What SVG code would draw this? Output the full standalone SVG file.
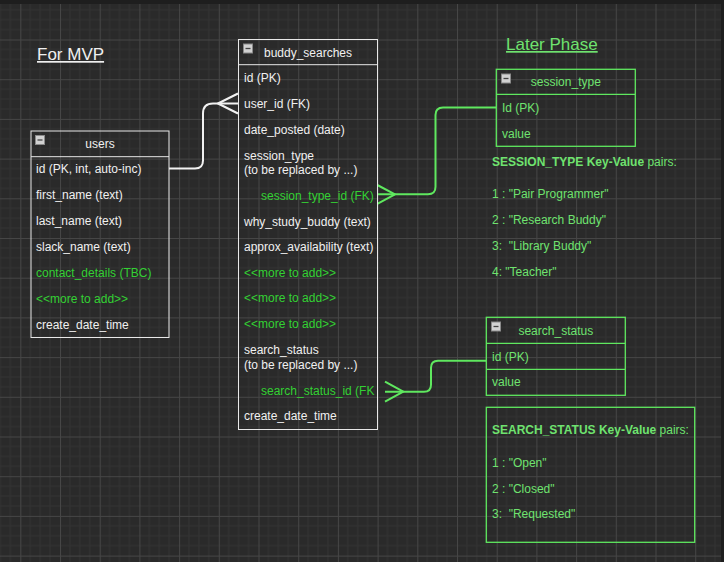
<svg xmlns="http://www.w3.org/2000/svg" width="724" height="562" viewBox="0 0 724 562">
<defs>
<pattern id="grid" x="20.3" y="39.5" width="39.7" height="39.7" patternUnits="userSpaceOnUse">
<path d="M9.925 0V39.7M19.85 0V39.7M29.775 0V39.7M0 9.925H39.7M0 19.85H39.7M0 29.775H39.7" stroke="#343434" stroke-width="1" fill="none"/>
<path d="M0.5 0V39.7M0 0.5H39.7" stroke="#464646" stroke-width="1" fill="none"/>
</pattern>
<g id="minus">
<rect x="0.5" y="0.5" width="9" height="9" fill="#d2d2d2" stroke="#8a8a8a"/>
<line x1="2.5" y1="5" x2="7.5" y2="5" stroke="#444" stroke-width="1.3"/>
</g>
</defs>
<style>
text{font-family:"Liberation Sans",Arial,sans-serif;font-size:12px}
.w{fill:#f0f0f0}
.g{fill:#33d133}
.lg{fill:#6fe36f}
.box{fill:none;stroke:#e8e8e8;stroke-width:1}
.gbox{fill:none;stroke:#5fe85f;stroke-width:1.3}
.hd{text-anchor:middle}
.b{font-weight:bold}
.title{font-size:17px;text-decoration:underline}
.cw{fill:none;stroke:#f2f2f2;stroke-width:2;stroke-linejoin:round}
.cg{fill:none;stroke:#5fe85f;stroke-width:2;stroke-linejoin:round}
</style>
<rect width="724" height="562" fill="#2a2a2a"/>
<rect width="724" height="562" fill="url(#grid)"/>
<rect width="724" height="4" fill="#1e1e1e"/>
<rect x="721" y="0" width="3" height="562" fill="#1e1e1e"/>

<text class="w title" x="37" y="60">For MVP</text>
<text class="lg title" x="506" y="50">Later Phase</text>

<g id="connectors">
<path class="cw" d="M169 168.5H195Q203 168.5 203 160.5V113.5Q203 103.5 213 103.5H238"/>
<path class="cw" d="M238 93.5L218 103.5L238 113.5"/>
<path class="cg" d="M377 194.3H428Q435.5 194.3 435.5 186.8V115Q435.5 107.5 443 107.5H496"/>
<path class="cg" d="M377.3 185L395 194.3L377.3 203.8"/>
<path class="cg" d="M385 391.7H424Q431 391.7 431 384.7V367.7Q431 360.7 438 360.7H486"/>
<path class="cg" d="M385 381.7L403.3 391.7L385 401.7"/>
</g>

<g id="users">
<rect class="box" x="31" y="131" width="138" height="206.5"/>
<line class="box" x1="31" y1="156.7" x2="169" y2="156.7"/>
<use href="#minus" x="35" y="135"/>
<text class="w hd" x="100" y="148">users</text>
<text class="w" x="36" y="173">id (PK, int, auto-inc)</text>
<text class="w" x="36" y="199">first_name (text)</text>
<text class="w" x="36" y="225">last_name (text)</text>
<text class="w" x="36" y="251">slack_name (text)</text>
<text class="g" x="36" y="277">contact_details (TBC)</text>
<text class="g" x="36" y="302.5">&lt;&lt;more to add&gt;&gt;</text>
<text class="w" x="36" y="328.5">create_date_time</text>
</g>

<g id="buddy_searches">
<rect class="box" x="238.5" y="39.5" width="139" height="390"/>
<line class="box" x1="238.5" y1="64.7" x2="377.5" y2="64.7"/>
<use href="#minus" x="243" y="43.5"/>
<text class="w hd" x="308" y="57">buddy_searches</text>
<text class="w" x="244" y="82.3">id (PK)</text>
<text class="w" x="244" y="108">user_id (FK)</text>
<text class="w" x="244" y="133.5">date_posted (date)</text>
<text class="w" x="244" y="160">session_type</text>
<text class="w" x="244" y="173.5">(to be replaced by ...)</text>
<text class="g" x="261" y="199.5">session_type_id (FK)</text>
<text class="w" x="244" y="225.7">why_study_buddy (text)</text>
<text class="w" x="244" y="251">approx_availability (text)</text>
<text class="g" x="244" y="276.5">&lt;&lt;more to add&gt;&gt;</text>
<text class="g" x="244" y="302">&lt;&lt;more to add&gt;&gt;</text>
<text class="g" x="244" y="328">&lt;&lt;more to add&gt;&gt;</text>
<text class="w" x="244" y="354">search_status</text>
<text class="w" x="244" y="368.5">(to be replaced by ...)</text>
<text class="g" x="261" y="394.5">search_status_id (FK</text>
<text class="w" x="244" y="420.3">create_date_time</text>
</g>

<g id="session_type">
<rect class="gbox" x="496.3" y="69.3" width="139" height="77"/>
<line class="gbox" x1="496.3" y1="94.3" x2="635.3" y2="94.3"/>
<use href="#minus" x="501" y="73.5"/>
<text class="lg hd" x="565.8" y="86">session_type</text>
<text class="lg" x="502" y="112.3">Id (PK)</text>
<text class="lg" x="502" y="137.5">value</text>
</g>

<g id="session_type_values">
<text class="lg" x="492" y="165.7"><tspan class="b">SESSION_TYPE Key-Value</tspan> pairs:</text>
<text class="lg" x="492" y="198.3">1 : "Pair Programmer"</text>
<text class="lg" x="492" y="224.3">2 : "Research Buddy"</text>
<text class="lg" x="492" y="250.3">3:&#160; "Library Buddy"</text>
<text class="lg" x="492" y="276.3">4: "Teacher"</text>
</g>

<g id="search_status">
<rect class="gbox" x="486.3" y="317.3" width="139" height="78"/>
<line class="gbox" x1="486.3" y1="343.3" x2="625.3" y2="343.3"/>
<line class="gbox" x1="486.3" y1="369.3" x2="625.3" y2="369.3"/>
<use href="#minus" x="491" y="321.5"/>
<text class="lg hd" x="555.8" y="335">search_status</text>
<text class="lg" x="492" y="361">id (PK)</text>
<text class="lg" x="492" y="386.3">value</text>
</g>

<g id="search_status_values">
<rect class="gbox" x="486.3" y="407.3" width="208.4" height="135"/>
<text class="lg" x="492" y="434.3"><tspan class="b">SEARCH_STATUS Key-Value</tspan> pairs:</text>
<text class="lg" x="492" y="466.7">1 : "Open"</text>
<text class="lg" x="492" y="492.5">2 : "Closed"</text>
<text class="lg" x="492" y="518.3">3:&#160; "Requested"</text>
</g>
</svg>
